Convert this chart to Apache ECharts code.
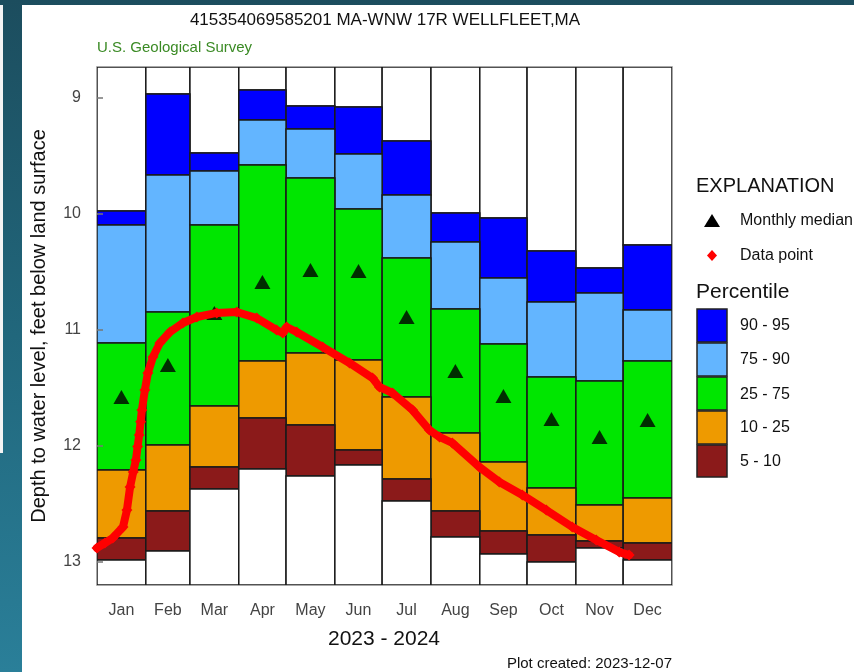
<!DOCTYPE html>
<html>
<head>
<meta charset="utf-8">
<script src="https://cdn.jsdelivr.net/npm/echarts@6.0.0/dist/echarts.min.js"></script>
<style>
  html, body { margin: 0; padding: 0; }
  body {
    width: 854px; height: 672px; overflow: hidden; position: relative;
    background: linear-gradient(180deg, #1c4d5e 0%, #21677c 50%, #2a7f99 100%);
  }
  .paper { position: absolute; left: 22px; top: 5px; right: 0; bottom: 0; background: #fff; }
  .strip { position: absolute; left: 0; top: 5px; width: 3px; height: 448px; background: #f4f4f4; }
  #chart { position: absolute; left: 0; top: 0; width: 854px; height: 672px; }
</style>
</head>
<body>
<div class="paper"></div>
<div class="strip"></div>
<div id="chart"></div>
<script>
// month boundaries in day-of-year, month names
var monthNames = ['Jan', 'Feb', 'Mar', 'Apr', 'May', 'Jun', 'Jul', 'Aug', 'Sep', 'Oct', 'Nov', 'Dec'];
var monthStart = [0, 31, 59, 90, 120, 151, 181, 212, 243, 273, 304, 334, 365];

// percentiles, depth to water (ft below land surface)
var p95 = [9.974, 8.966, 9.474, 8.931, 9.069, 9.078, 9.371, 9.991, 10.034, 10.319, 10.466, 10.267];
var p90 = [10.095, 9.664, 9.629, 9.190, 9.267, 9.483, 9.836, 10.241, 10.552, 10.759, 10.681, 10.828];
var p75 = [11.112, 10.845, 10.095, 9.578, 9.690, 9.957, 10.379, 10.819, 11.121, 11.405, 11.440, 11.267];
var p25 = [12.207, 11.991, 11.655, 11.267, 11.198, 11.259, 11.578, 11.888, 12.138, 12.362, 12.509, 12.448];
var p10 = [12.793, 12.560, 12.181, 11.759, 11.819, 12.034, 12.284, 12.560, 12.733, 12.767, 12.819, 12.836];
var p5 = [12.983, 12.905, 12.371, 12.198, 12.259, 12.164, 12.474, 12.784, 12.931, 13.000, 12.879, 12.983];
var medians = [11.578, 11.302, 10.853, 10.586, 10.483, 10.491, 10.888, 11.353, 11.569, 11.767, 11.922, 11.776];

// data points (day of year, depth)
var pointDays = [0, 5, 10, 16.5, 19, 21, 23, 24.7, 25.8, 26.8, 27.7, 28.5, 30.4, 32.3, 35.5, 39.9, 46.3, 54.5,
  63.4, 76, 88.7, 101.4, 114, 117.9, 120.4, 126.7, 143.2, 160.3, 174.9, 179.3, 187.6, 200.3, 211, 217.4, 225.6,
  242.7, 255.4, 270, 285.2, 301.7, 316.9, 331.5, 337.8];
var pointDepths = [12.879, 12.836, 12.793, 12.698, 12.552, 12.353, 12.224, 12.12, 12.005, 11.905, 11.79, 11.69,
  11.517, 11.371, 11.233, 11.112, 11.017, 10.94, 10.888, 10.853, 10.845, 10.897, 11.0, 11.026, 10.974, 11.017,
  11.147, 11.284, 11.414, 11.491, 11.543, 11.69, 11.862, 11.922, 11.974, 12.181, 12.31, 12.422, 12.552, 12.698,
  12.81, 12.914, 12.94];

var yTop = 8.733, yBottom = 13.198;
var colors = { b9095: '#0000ff', b7590: '#63b5ff', b2575: '#00e600', b1025: '#ee9a00', b0510: '#8b1a1a' };

function band(lo, hi) {
  return monthNames.map(function (m, i) {
    return [monthStart[i], monthStart[i + 1], lo[i], hi[i]];
  });
}
function fill(arr, v) { return arr.map(function () { return v; }); }

function bandSeries(name, data, color) {
  return {
    name: name,
    type: 'custom',
    clip: true,
    z: 2,
    encode: { x: [0, 1], y: [2, 3] },
    renderItem: function (params, api) {
      var a = api.coord([api.value(0), api.value(2)]);
      var b = api.coord([api.value(1), api.value(3)]);
      return {
        type: 'rect',
        shape: { x: a[0], y: Math.min(a[1], b[1]), width: b[0] - a[0], height: Math.abs(b[1] - a[1]) },
        style: { fill: color, stroke: '#1a1a1a', lineWidth: 1.5 }
      };
    },
    data: data
  };
}

var mids = monthNames.map(function (m, i) { return (monthStart[i] + monthStart[i + 1]) / 2; });

var chart = echarts.init(document.getElementById('chart'), null, { renderer: 'canvas' });
var option = {
  animation: false,
  backgroundColor: 'transparent',
  textStyle: { fontFamily: 'Liberation Sans, Arial, sans-serif' },
  grid: {
    left: 97, top: 67, width: 575, height: 518,
    show: true, borderColor: '#8c8c8c', borderWidth: 1.5, backgroundColor: 'transparent'
  },
  xAxis: {
    type: 'value', min: 0, max: 365,
    axisLine: { show: false }, axisTick: { show: false }, splitLine: { show: false },
    axisLabel: {
      customValues: mids, fontSize: 16, color: '#444', margin: 18,
      formatter: function (v) { return monthNames[mids.indexOf(v)] || ''; }
    }
  },
  yAxis: {
    type: 'value', inverse: true, min: yTop, max: yBottom, z: 10,
    axisLine: { show: false }, splitLine: { show: false },
    axisTick: { show: true, inside: true, length: 6, customValues: [9, 10, 11, 12, 13], lineStyle: { color: '#777', width: 1.5 } },
    axisLabel: { customValues: [9, 10, 11, 12, 13], fontSize: 16, color: '#444', margin: 16 }
  },
  series: [
    bandSeries('max', band(fill(p95, yTop), p95), '#ffffff'),
    bandSeries('90 - 95', band(p95, p90), colors.b9095),
    bandSeries('75 - 90', band(p90, p75), colors.b7590),
    bandSeries('25 - 75', band(p75, p25), colors.b2575),
    bandSeries('10 - 25', band(p25, p10), colors.b1025),
    bandSeries('5 - 10', band(p10, p5), colors.b0510),
    bandSeries('min', band(p5, fill(p5, yBottom)), '#ffffff'),
    {
      name: 'Monthly median', type: 'scatter', z: 4,
      symbol: 'triangle', symbolSize: [16, 14],
      itemStyle: { color: '#000' },
      data: mids.map(function (d, i) { return [d, medians[i]]; })
    },
    {
      name: 'Data point', type: 'line', z: 5,
      symbol: 'diamond', symbolSize: 11, showSymbol: true,
      lineStyle: { color: '#ff0000', width: 8, join: 'round', cap: 'round' },
      itemStyle: { color: '#ff0000' },
      data: pointDays.map(function (d, i) { return [d, pointDepths[i]]; })
    }
  ],
  graphic: [
    { type: 'text', x: 385, y: 20, style: { text: '415354069585201 MA-WNW 17R WELLFLEET,MA', fontSize: 17, fill: '#111', align: 'center', verticalAlign: 'middle', fontFamily: 'Liberation Sans' } },
    { type: 'text', x: 97, y: 48, style: { text: 'U.S. Geological Survey', fontSize: 15, fill: '#3a8a24', align: 'left', verticalAlign: 'middle', fontFamily: 'Liberation Sans' } },
    { type: 'text', x: 39, y: 326, rotation: Math.PI / 2, style: { text: 'Depth to water level, feet below land surface', fontSize: 20, fill: '#111', align: 'center', verticalAlign: 'middle', fontFamily: 'Liberation Sans' } },
    { type: 'text', x: 384, y: 639, style: { text: '2023 - 2024', fontSize: 21, fill: '#111', align: 'center', verticalAlign: 'middle', fontFamily: 'Liberation Sans' } },
    { type: 'text', x: 672, y: 664, style: { text: 'Plot created: 2023-12-07', fontSize: 15, fill: '#111', align: 'right', verticalAlign: 'middle', fontFamily: 'Liberation Sans' } },
    // explanation box
    { type: 'text', x: 696, y: 186, style: { text: 'EXPLANATION', fontSize: 20, fill: '#111', align: 'left', verticalAlign: 'middle', fontFamily: 'Liberation Sans' } },
    { type: 'polygon', shape: { points: [[712, 214], [720, 227], [704, 227]] }, style: { fill: '#000' } },
    { type: 'text', x: 740, y: 221, style: { text: 'Monthly median', fontSize: 16, fill: '#111', align: 'left', verticalAlign: 'middle', fontFamily: 'Liberation Sans' } },
    { type: 'polygon', shape: { points: [[712, 250], [717, 255.5], [712, 261], [707, 255.5]] }, style: { fill: '#ff0000' } },
    { type: 'text', x: 740, y: 256, style: { text: 'Data point', fontSize: 16, fill: '#111', align: 'left', verticalAlign: 'middle', fontFamily: 'Liberation Sans' } },
    { type: 'text', x: 696, y: 292, style: { text: 'Percentile', fontSize: 21, fill: '#111', align: 'left', verticalAlign: 'middle', fontFamily: 'Liberation Sans' } },
    { type: 'rect', shape: { x: 697, y: 309, width: 30, height: 33 }, style: { fill: colors.b9095, stroke: '#222', lineWidth: 1.5 } },
    { type: 'rect', shape: { x: 697, y: 343, width: 30, height: 33 }, style: { fill: colors.b7590, stroke: '#222', lineWidth: 1.5 } },
    { type: 'rect', shape: { x: 697, y: 377, width: 30, height: 33 }, style: { fill: colors.b2575, stroke: '#222', lineWidth: 1.5 } },
    { type: 'rect', shape: { x: 697, y: 411, width: 30, height: 33 }, style: { fill: colors.b1025, stroke: '#222', lineWidth: 1.5 } },
    { type: 'rect', shape: { x: 697, y: 445, width: 30, height: 32 }, style: { fill: colors.b0510, stroke: '#222', lineWidth: 1.5 } },
    { type: 'text', x: 740, y: 326, style: { text: '90 - 95', fontSize: 16, fill: '#111', verticalAlign: 'middle', fontFamily: 'Liberation Sans' } },
    { type: 'text', x: 740, y: 360, style: { text: '75 - 90', fontSize: 16, fill: '#111', verticalAlign: 'middle', fontFamily: 'Liberation Sans' } },
    { type: 'text', x: 740, y: 395, style: { text: '25 - 75', fontSize: 16, fill: '#111', verticalAlign: 'middle', fontFamily: 'Liberation Sans' } },
    { type: 'text', x: 740, y: 428, style: { text: '10 - 25', fontSize: 16, fill: '#111', verticalAlign: 'middle', fontFamily: 'Liberation Sans' } },
    { type: 'text', x: 740, y: 462, style: { text: '5 - 10', fontSize: 16, fill: '#111', verticalAlign: 'middle', fontFamily: 'Liberation Sans' } }
  ]
};
chart.setOption(option);
</script>
</body>
</html>
